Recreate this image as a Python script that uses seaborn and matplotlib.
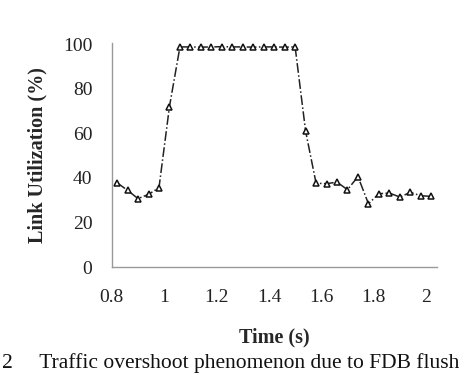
import matplotlib
matplotlib.use("Agg")
import matplotlib.pyplot as plt
import seaborn as sns
import pandas as pd

# link utilization over time
time_s = [0.82, 0.86, 0.90, 0.94, 0.98, 1.02, 1.06, 1.10, 1.14, 1.18, 1.22,
          1.26, 1.30, 1.34, 1.38, 1.42, 1.46, 1.50, 1.54, 1.58, 1.62, 1.66,
          1.70, 1.74, 1.78, 1.82, 1.86, 1.90, 1.94, 1.98, 2.02]
utilization = [37.8, 34.4, 30.7, 32.6, 35.6, 72.0, 98.8, 98.8, 98.7, 98.8,
               98.9, 98.8, 98.8, 98.7, 98.8, 98.8, 98.7, 98.8, 61.0, 37.6,
               37.4, 38.1, 34.7, 40.6, 28.4, 32.9, 33.2, 31.4, 33.5, 32.0, 31.7]
x_ticks = [0.8, 1.0, 1.2, 1.4, 1.6, 1.8, 2.0]
x_tick_labels = ["0.8", "1", "1.2", "1.4", "1.6", "1.8", "2"]
y_ticks = [0, 20, 40, 60, 80, 100]

df = pd.DataFrame({"Time": time_s, "Util": utilization})

sns.set_style("white")
plt.rcParams["font.family"] = ["Liberation Serif", "DejaVu Serif"]

fig = plt.figure(figsize=(4.74, 3.75), dpi=100)
ax = fig.add_axes([0.236, 0.288, 0.686, 0.597])

sns.lineplot(data=df, x="Time", y="Util", ax=ax, color="#222222",
             linestyle="-.", linewidth=1.1, marker="^", markersize=4.2,
             markerfacecolor="white", markeredgecolor="#111111",
             markeredgewidth=1.1)

ax.set_xlim(0.8, 2.042)
ax.set_ylim(0, 100.5)
ax.set_xticks(x_ticks)
ax.set_xticklabels(x_tick_labels)
ax.set_yticks(y_ticks)

for s in ["top", "right"]:
    ax.spines[s].set_visible(False)
for s in ["left", "bottom"]:
    ax.spines[s].set_color("#999999")
    ax.spines[s].set_linewidth(1.0)

ax.tick_params(axis="both", direction="in", length=4.5, width=0.8,
               color="#999999", labelsize=14, labelcolor="#222222")
ax.tick_params(axis="y", pad=14)
ax.tick_params(axis="x", pad=16)

ax.set_xlabel("Time (s)", fontsize=14.5, fontweight="bold", labelpad=15)
ax.set_ylabel("Link Utilization (%)", fontsize=14.5, fontweight="bold",
              labelpad=11)

fig.text(0.004, 0.006, "2     Traffic overshoot phenomenon due to FDB flush",
         fontsize=15.5, ha="left", va="bottom", color="#111111")

fig.savefig("out.png", dpi=100)
